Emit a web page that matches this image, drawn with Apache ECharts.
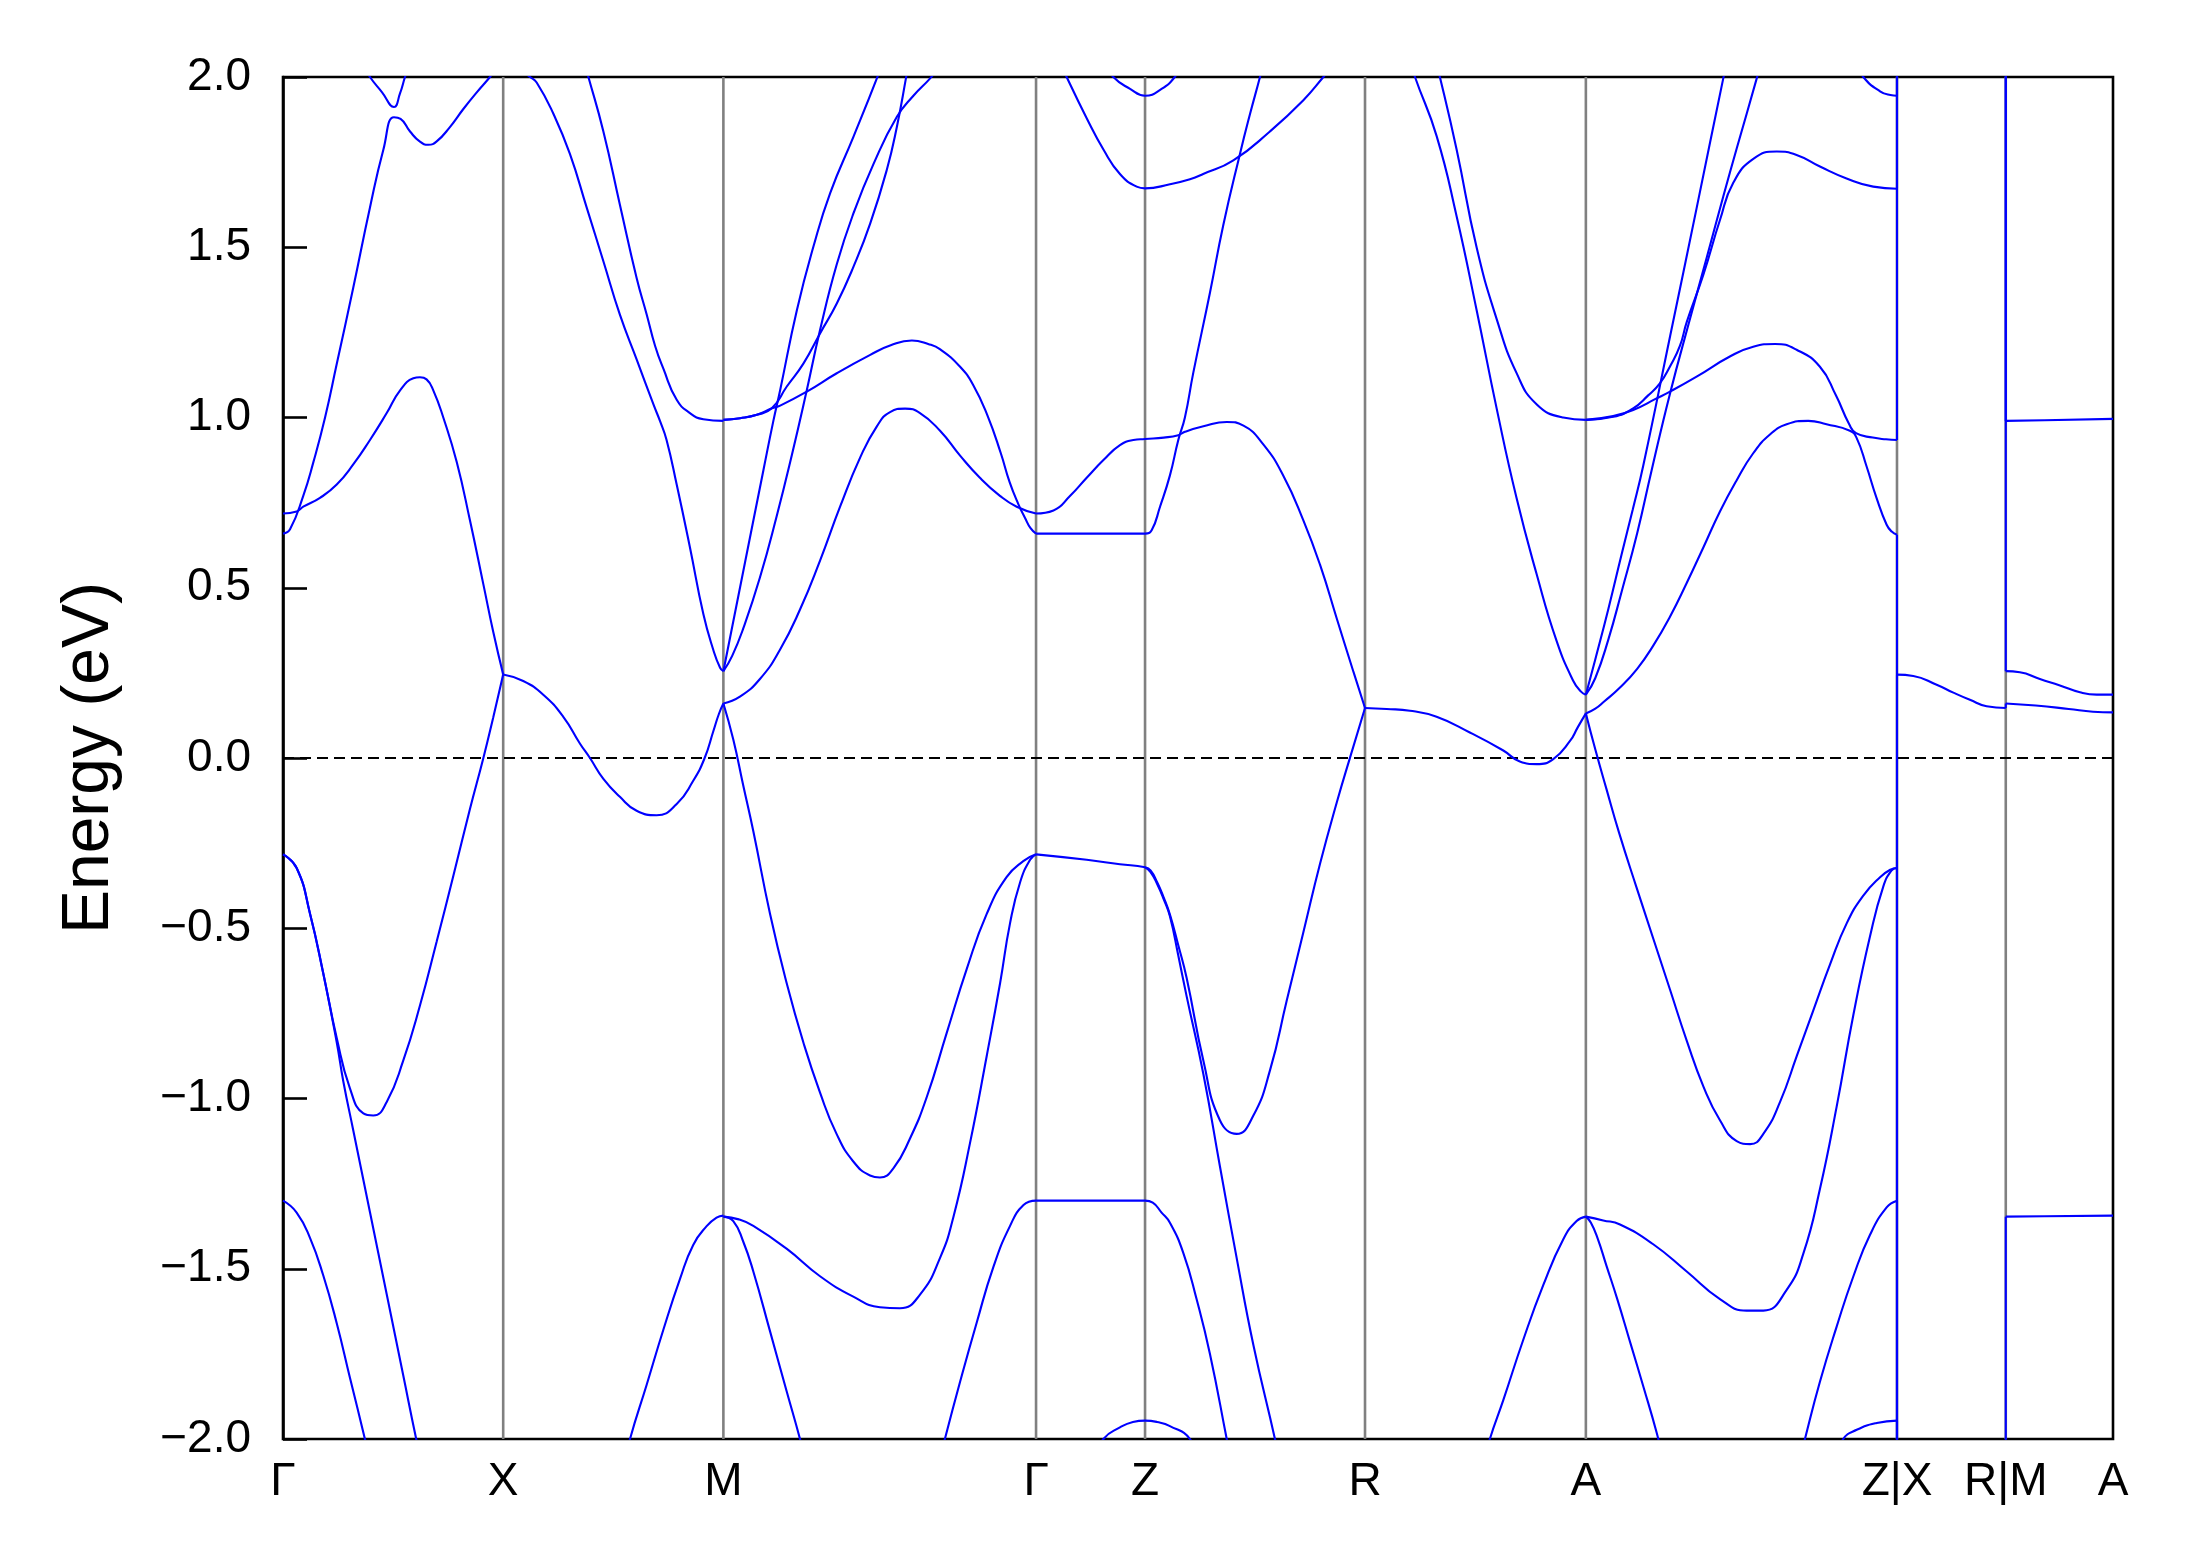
<!DOCTYPE html>
<html>
<head>
<meta charset="utf-8">
<script src="https://cdn.jsdelivr.net/npm/echarts@6/dist/echarts.min.js"></script>
<style>
  html, body { margin: 0; padding: 0; background: #ffffff; }
  #chart { width: 2189px; height: 1567px; }
</style>
</head>
<body>
<div id="chart"></div>
<script>
// ---- high-symmetry path (k in units of Γ–X length) ----
const kTicks  = [0, 1.0, 2.0, 3.42, 3.915, 4.914, 5.917, 7.33, 7.824, 8.311];
const kLabels = ['Γ', 'X', 'M', 'Γ', 'Z', 'R', 'A', 'Z|X', 'R|M', 'A'];
const yRange  = [-2, 2];
const yStep   = 0.5;

// ---- bands: [k, E(eV)] ----
// Γ–X (+ continuation to M)
const bandGX1 = [[0,0.659],[0.032,0.672],[0.092,0.770],[0.138,0.869],[0.191,1.0],[0.244,1.157],[0.319,1.381],[0.395,1.617],[0.456,1.787],[0.504,1.882],[0.534,1.877],[0.577,1.840],[0.622,1.810],[0.660,1.801],[0.698,1.811],[0.758,1.853],[0.819,1.906],[0.880,1.955],[0.940,2.0],[1.0,2.05],[1.06,2.03],[1.122,2.0],[1.152,1.984],[1.228,1.892],[1.303,1.774],[1.379,1.617],[1.455,1.459],[1.530,1.302],[1.606,1.171],[1.682,1.039],[1.712,0.99],[1.742,0.934],[1.788,0.803],[1.848,0.619],[1.909,0.423],[1.954,0.318],[1.985,0.265],[2.0,0.255]];
const bandGX2 = [[0.37,2.03],[0.395,2.0],[0.45,1.955],[0.504,1.912],[0.531,1.951],[0.554,2.0],[0.57,2.03]];
const bandGX3 = [[0,0.718],[0.062,0.724],[0.092,0.738],[0.168,0.764],[0.244,0.803],[0.319,0.862],[0.395,0.934],[0.471,1.013],[0.531,1.079],[0.592,1.115],[0.622,1.118],[0.652,1.112],[0.683,1.079],[0.728,1.0],[0.789,0.869],[0.849,0.698],[0.91,0.51],[0.955,0.37],[1.0,0.245]];
const bandGX4 = [[0,-0.283],[0.062,-0.323],[0.123,-0.458],[0.183,-0.633],[0.244,-0.822],[0.304,-0.970],[0.365,-1.044],[0.41,-1.050],[0.471,-1.010],[0.546,-0.889],[0.622,-0.727],[0.698,-0.539],[0.774,-0.345],[0.849,-0.15],[0.91,0.0],[0.955,0.12],[1.0,0.245]];
const bandGX5 = [[0,-0.283],[0.062,-0.323],[0.123,-0.458],[0.183,-0.633],[0.244,-0.835],[0.274,-0.95],[0.319,-1.093],[0.395,-1.334],[0.471,-1.575],[0.546,-1.813],[0.605,-2.0],[0.64,-2.1]];
const bandGX6 = [[0,-1.30],[0.062,-1.335],[0.123,-1.41],[0.183,-1.52],[0.244,-1.66],[0.304,-1.82],[0.372,-2.0],[0.40,-2.08]];
// X–M
const bandXM1 = [[1.36,2.06],[1.387,2.0],[1.455,1.840],[1.530,1.625],[1.606,1.41],[1.652,1.302],[1.69,1.21],[1.727,1.144],[1.788,1.052],[1.848,1.013],[1.909,0.995],[2.0,0.990]];
const bandXM2 = [[1.0,0.245],[1.091,0.226],[1.182,0.186],[1.273,0.121],[1.349,0.042],[1.394,0.0],[1.455,-0.061],[1.530,-0.114],[1.606,-0.155],[1.697,-0.168],[1.788,-0.135],[1.863,-0.067],[1.915,0.0],[1.955,0.08],[1.98,0.13],[2.0,0.160]];
const bandXM3 = [[1.55,-2.08],[1.576,-2.0],[1.652,-1.84],[1.727,-1.68],[1.803,-1.53],[1.863,-1.43],[1.924,-1.375],[1.969,-1.350],[2.0,-1.344]];
// M–Γ
const bandMG1 = [[2.0,0.993],[2.076,0.998],[2.152,1.008],[2.22,1.027],[2.288,1.091],[2.364,1.159],[2.439,1.247],[2.515,1.335],[2.591,1.443],[2.667,1.570],[2.742,1.727],[2.788,1.854],[2.829,1.996],[2.84,2.04]];
const bandMG2 = [[2.0,0.993],[2.076,0.998],[2.152,1.008],[2.22,1.027],[2.258,1.035],[2.379,1.076],[2.515,1.130],[2.667,1.184],[2.76,1.212],[2.856,1.226],[2.93,1.216],[2.985,1.200],[3.075,1.149],[3.135,1.095],[3.20,1.005],[3.26,0.895],[3.30,0.81],[3.34,0.745],[3.37,0.705],[3.395,0.675],[3.42,0.659]];
const bandMG3 = [[2.0,0.255],[2.1,0.58],[2.182,0.846],[2.227,0.99],[2.258,1.081],[2.334,1.316],[2.409,1.502],[2.485,1.659],[2.591,1.825],[2.697,1.996],[2.72,2.04]];
const bandMG4 = [[2.0,0.255],[2.04,0.30],[2.09,0.38],[2.166,0.53],[2.242,0.71],[2.311,0.89],[2.379,1.081],[2.439,1.257],[2.515,1.45],[2.591,1.60],[2.682,1.745],[2.788,1.883],[2.863,1.945],[2.939,1.996],[2.98,2.03]];
const bandMG5 = [[2.0,0.160],[2.075,0.180],[2.166,0.232],[2.257,0.318],[2.348,0.436],[2.439,0.580],[2.530,0.738],[2.621,0.882],[2.697,0.974],[2.757,1.016],[2.825,1.026],[2.893,1.013],[2.984,0.961],[3.075,0.888],[3.165,0.823],[3.256,0.770],[3.332,0.738],[3.42,0.718]];
const bandMG6 = [[2.0,0.160],[2.045,0.054],[2.09,-0.08],[2.136,-0.215],[2.212,-0.458],[2.287,-0.660],[2.363,-0.835],[2.439,-0.983],[2.514,-1.104],[2.590,-1.185],[2.666,-1.226],[2.711,-1.232],[2.772,-1.205],[2.847,-1.118],[2.923,-0.997],[3.014,-0.808],[3.105,-0.620],[3.196,-0.458],[3.286,-0.350],[3.362,-0.303],[3.42,-0.283]];
const bandMG7 = [[2.0,-1.347],[2.045,-1.36],[2.09,-1.42],[2.136,-1.508],[2.212,-1.684],[2.287,-1.859],[2.348,-2.0],[2.37,-2.06]];
const bandMG8 = [[2.0,-1.347],[2.07,-1.355],[2.136,-1.374],[2.287,-1.441],[2.439,-1.522],[2.590,-1.582],[2.711,-1.613],[2.802,-1.616],[2.893,-1.576],[2.984,-1.468],[3.045,-1.347],[3.120,-1.131],[3.196,-0.875],[3.257,-0.660],[3.302,-0.485],[3.348,-0.364],[3.393,-0.299],[3.42,-0.283]];
const bandMG9 = [[2.98,-2.07],[3.006,-2.0],[3.075,-1.832],[3.151,-1.657],[3.226,-1.495],[3.302,-1.374],[3.363,-1.313],[3.42,-1.300]];
// Γ–Z (+ Z–R continuation)
const bandGZ1 = [[3.42,0.718],[3.499,0.727],[3.575,0.770],[3.650,0.823],[3.726,0.875],[3.801,0.919],[3.862,0.934],[3.915,0.937],[4.0,0.941],[4.066,0.948],[4.096,0.958],[4.180,0.974],[4.286,0.987],[4.362,0.976],[4.452,0.921],[4.543,0.829],[4.634,0.698],[4.710,0.567],[4.786,0.409],[4.862,0.252],[4.914,0.147]];
const bandGZ2 = [[3.42,0.659],[3.6,0.659],[3.8,0.659],[3.88,0.659],[3.915,0.659],[3.945,0.669],[3.983,0.738],[4.028,0.830],[4.066,0.934],[4.096,1.0],[4.134,1.131],[4.210,1.367],[4.270,1.564],[4.346,1.774],[4.392,1.892],[4.437,2.0],[4.46,2.06]];
const bandGZ3 = [[3.42,-0.283],[3.650,-0.299],[3.801,-0.312],[3.915,-0.321],[3.94,-0.33],[3.97,-0.365],[4.0,-0.41],[4.028,-0.46],[4.066,-0.55],[4.104,-0.646],[4.180,-0.889],[4.255,-1.064],[4.331,-1.104],[4.407,-1.050],[4.483,-0.916],[4.558,-0.714],[4.634,-0.512],[4.710,-0.31],[4.786,-0.13],[4.85,0.01],[4.914,0.147]];
const bandZR2 = [[3.915,-0.321],[3.94,-0.335],[3.97,-0.37],[4.0,-0.415],[4.028,-0.465],[4.066,-0.58],[4.104,-0.70],[4.180,-0.929],[4.255,-1.199],[4.331,-1.468],[4.407,-1.724],[4.505,-2.0],[4.53,-2.08]];
const bandGZ4 = [[3.42,-1.300],[3.6,-1.300],[3.8,-1.300],[3.915,-1.300],[3.95,-1.306],[3.99,-1.335],[4.028,-1.365],[4.089,-1.454],[4.149,-1.589],[4.210,-1.751],[4.286,-2.0],[4.31,-2.08]];
const bandGZ5 = [[3.70,-2.05],[3.726,-2.0],[3.801,-1.966],[3.860,-1.950],[3.915,-1.946],[3.97,-1.950],[4.028,-1.962],[4.119,-2.0],[4.14,-2.05]];
const bandGZ6 = [[3.75,2.03],[3.771,2.0],[3.847,1.965],[3.915,1.945],[3.99,1.965],[4.05,2.0],[4.07,2.03]];
const bandGZ7 = [[3.54,2.03],[3.559,2.0],[3.650,1.879],[3.726,1.787],[3.801,1.715],[3.877,1.678],[3.915,1.673],[4.028,1.685],[4.119,1.700],[4.179,1.715],[4.316,1.755],[4.482,1.840],[4.634,1.932],[4.725,2.0],[4.75,2.02]];
// R–A
const bandRA1 = [[4.914,0.147],[5.012,0.144],[5.118,0.139],[5.239,0.121],[5.390,0.075],[5.542,0.022],[5.617,-0.010],[5.693,-0.018],[5.769,-0.003],[5.845,0.050],[5.88,0.09],[5.917,0.131]];
const bandRA2 = [[5.24,2.03],[5.254,2.0],[5.330,1.787],[5.421,1.499],[5.512,1.289],[5.602,1.131],[5.693,1.039],[5.814,1.0],[5.917,0.993]];
const bandRA3 = [[5.13,2.03],[5.141,2.0],[5.239,1.827],[5.330,1.591],[5.421,1.315],[5.512,1.026],[5.602,0.764],[5.693,0.541],[5.784,0.344],[5.860,0.226],[5.895,0.195],[5.917,0.186]];
const bandRA4 = [[5.46,-2.06],[5.481,-2.0],[5.542,-1.886],[5.632,-1.710],[5.723,-1.549],[5.814,-1.414],[5.875,-1.360],[5.917,-1.347]];
// A–Z
const bandAZ1 = [[5.917,0.186],[5.96,0.29],[6.02,0.44],[6.08,0.60],[6.13,0.73],[6.178,0.86],[6.30,1.24],[6.42,1.615],[6.541,1.996],[6.56,2.05]];
const bandAZ2 = [[5.917,0.186],[5.96,0.235],[6.02,0.35],[6.08,0.49],[6.15,0.66],[6.216,0.846],[6.299,1.07],[6.390,1.29],[6.466,1.47],[6.541,1.649],[6.602,1.79],[6.693,1.996],[6.71,2.04]];
const bandAZ3 = [[5.917,0.993],[6.041,1.004],[6.132,1.022],[6.238,1.056],[6.299,1.076],[6.420,1.120],[6.571,1.179],[6.677,1.208],[6.776,1.216],[6.874,1.199],[6.980,1.149],[7.052,1.066],[7.113,0.980],[7.144,0.954],[7.220,0.941],[7.28,0.936],[7.33,0.934]];
const bandAZ4 = [[5.917,0.993],[6.041,1.002],[6.132,1.027],[6.20,1.065],[6.253,1.10],[6.299,1.15],[6.344,1.21],[6.375,1.28],[6.451,1.42],[6.526,1.58],[6.587,1.69],[6.679,1.76],[6.784,1.781],[6.874,1.771],[6.980,1.737],[7.101,1.702],[7.222,1.678],[7.33,1.672]];
const bandAZ5 = [[5.917,0.131],[5.96,0.145],[6.0,0.166],[6.072,0.207],[6.15,0.262],[6.223,0.33],[6.299,0.415],[6.375,0.514],[6.451,0.619],[6.526,0.724],[6.602,0.816],[6.677,0.895],[6.753,0.950],[6.829,0.980],[6.927,0.990],[7.010,0.980],[7.116,0.961],[7.146,0.941],[7.192,0.856],[7.237,0.764],[7.283,0.685],[7.306,0.665],[7.33,0.656]];
const bandAZ6 = [[5.917,0.131],[5.96,0.025],[6.01,-0.09],[6.068,-0.22],[6.147,-0.38],[6.223,-0.53],[6.299,-0.68],[6.375,-0.83],[6.451,-0.965],[6.526,-1.064],[6.602,-1.125],[6.663,-1.134],[6.723,-1.104],[6.799,-1.010],[6.875,-0.875],[6.950,-0.741],[7.026,-0.606],[7.102,-0.485],[7.177,-0.404],[7.253,-0.350],[7.30,-0.328],[7.33,-0.323]];
const bandAZ7 = [[5.917,-1.347],[5.996,-1.358],[6.072,-1.370],[6.223,-1.428],[6.375,-1.508],[6.526,-1.589],[6.647,-1.623],[6.723,-1.623],[6.829,-1.562],[6.905,-1.455],[6.980,-1.266],[7.056,-1.024],[7.132,-0.754],[7.207,-0.525],[7.268,-0.377],[7.306,-0.330],[7.33,-0.323]];
const bandAZ8 = [[5.917,-1.347],[5.94,-1.365],[5.97,-1.41],[6.01,-1.49],[6.06,-1.59],[6.12,-1.72],[6.18,-1.85],[6.238,-1.98],[6.26,-2.04]];
const bandAZ9 = [[6.89,-2.06],[6.912,-2.0],[6.980,-1.832],[7.056,-1.670],[7.132,-1.522],[7.207,-1.401],[7.283,-1.320],[7.33,-1.300]];
const bandAZ10 = [[7.07,-2.04],[7.086,-2.0],[7.147,-1.973],[7.238,-1.953],[7.33,-1.946]];
const bandAZ11 = [[7.16,2.03],[7.177,2.0],[7.253,1.958],[7.30,1.947],[7.33,1.945]];
// X–R
const bandXR1 = [[7.33,0.245],[7.404,0.241],[7.510,0.215],[7.586,0.192],[7.661,0.171],[7.737,0.152],[7.824,0.147]];
// M–A
const bandMA1 = [[7.824,0.990],[8.0,0.992],[8.311,0.996]];
const bandMA2 = [[7.824,0.255],[7.888,0.252],[7.979,0.232],[8.070,0.213],[8.161,0.193],[8.237,0.186],[8.311,0.186]];
const bandMA3 = [[7.824,0.160],[7.96,0.154],[8.11,0.144],[8.22,0.136],[8.311,0.134]];
const bandMA4 = [[7.824,-1.347],[8.0,-1.346],[8.311,-1.344]];

// band energies on both sides of the path discontinuities [left side, right side]
const jumpZX = [[-1.946,-2.6],[-1.30,-2.5],[-0.323,-2.4],[-0.323,0.245],[0.656,-2.3],[0.934,2.3],[1.672,2.4],[1.945,2.5]];
const jumpRM = [[0.147,0.160],[2.3,0.255],[2.4,0.990],[-2.3,-1.347]];

// ---------------------------------------------------------------
const bands = [bandGX1,bandGX2,bandGX3,bandGX4,bandGX5,bandGX6,bandXM1,bandXM2,bandXM3,
  bandMG1,bandMG2,bandMG3,bandMG4,bandMG5,bandMG6,bandMG7,bandMG8,bandMG9,
  bandGZ1,bandGZ2,bandGZ3,bandZR2,bandGZ4,bandGZ5,bandGZ6,bandGZ7,
  bandRA1,bandRA2,bandRA3,bandRA4,
  bandAZ1,bandAZ2,bandAZ3,bandAZ4,bandAZ5,bandAZ6,bandAZ7,bandAZ8,bandAZ9,bandAZ10,bandAZ11,
  bandXR1,bandMA1,bandMA2,bandMA3,bandMA4];

const BLUE = '#0000ff';
const FONT = '"Liberation Sans", Arial, Helvetica, sans-serif';
const kEnd = kTicks[kTicks.length - 1];

const series = [];
// grey vertical lines at interior high-symmetry points
kTicks.slice(1, -1).forEach(k => {
  series.push({ type: 'line', data: [[k, yRange[0]], [k, yRange[1]]], symbol: 'none', silent: true,
    lineStyle: { color: '#808080', width: 2.6 }, z: 1 });
});
// Fermi level
series.push({ type: 'line', data: [[0, 0], [kEnd, 0]], symbol: 'none', silent: true,
  lineStyle: { color: '#000000', width: 2.2, type: [11, 6] }, z: 2 });
// bands
bands.forEach(d => {
  series.push({ type: 'line', data: d, smooth: 0.5, symbol: 'none', silent: true,
    lineStyle: { color: BLUE, width: 2.1 }, z: 3 });
});
// discontinuity jumps
[[kTicks[7], jumpZX], [kTicks[8], jumpRM]].forEach(([k, list]) => {
  list.forEach(([a, b]) => {
    series.push({ type: 'line', data: [[k, a], [k, b]], symbol: 'none', silent: true,
      lineStyle: { color: BLUE, width: 2.1 }, z: 3 });
  });
});

const chart = echarts.init(document.getElementById('chart'), null, { renderer: 'canvas' });
chart.setOption({
  animation: false,
  backgroundColor: '#ffffff',
  grid: { left: 283, right: 76, top: 77, bottom: 128, show: true, borderColor: '#000', borderWidth: 2.6, backgroundColor: 'transparent' },
  xAxis: {
    type: 'value', min: 0, max: kEnd,
    axisLine: { show: false }, axisTick: { show: false }, splitLine: { show: false },
    axisLabel: {
      customValues: kTicks,
      showMinLabel: true, showMaxLabel: true,
      formatter: v => {
        let best = 0;
        kTicks.forEach((t, i) => { if (Math.abs(t - v) < Math.abs(kTicks[best] - v)) best = i; });
        return kLabels[best];
      },
      fontSize: 46, color: '#000', fontFamily: FONT, margin: 20
    }
  },
  yAxis: {
    type: 'value', min: yRange[0], max: yRange[1], interval: yStep,
    axisLine: { show: true, lineStyle: { color: '#000', width: 2.6 } },
    axisTick: { show: true, inside: true, length: 24, lineStyle: { color: '#000', width: 2.6 } },
    splitLine: { show: false },
    axisLabel: {
      formatter: v => (v < 0 ? '\u2212' : '') + Math.abs(v).toFixed(1),
      fontSize: 46, color: '#000', fontFamily: FONT, margin: 32
    },
    name: 'Energy (eV)', nameLocation: 'middle', nameGap: 160, nameRotate: 90,
    nameTextStyle: { fontSize: 66, color: '#000', fontFamily: FONT }
  },
  series: series
});
</script>
</body>
</html>
